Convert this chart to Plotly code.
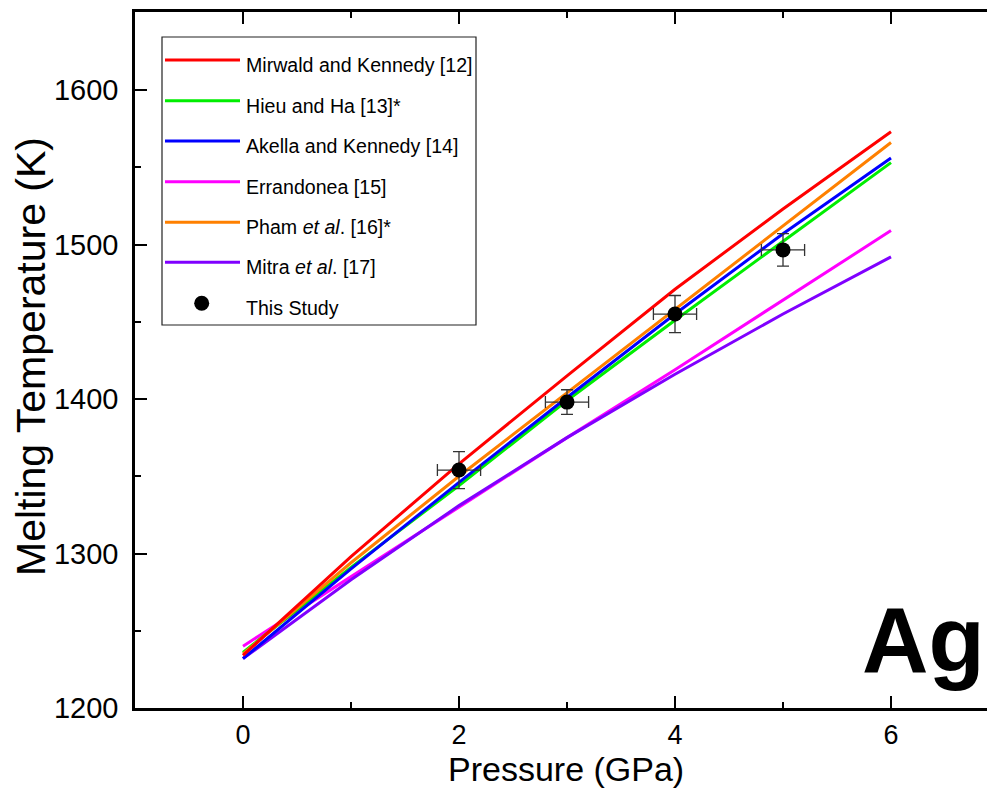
import plotly.graph_objects as go

# ---------------- data ----------------
pressure = [0, 1, 2, 3, 4, 5, 6]
mirwald = [1234, 1298, 1358, 1415, 1471, 1523, 1573]
hieu = [1236, 1291, 1344, 1399, 1451, 1502, 1553]
akella = [1232, 1290, 1346, 1401, 1455, 1507, 1556]
errandonea = [1240, 1285, 1330, 1375, 1419, 1464, 1509]
pham = [1235, 1294, 1350, 1404, 1458, 1512, 1566]
mitra = [1232, 1283, 1331, 1375, 1416, 1455, 1492]

study_p = [2, 3, 4, 5]
study_t = [1354, 1398, 1455, 1496.5]
study_p_err = [0.2, 0.2, 0.2, 0.2]
study_t_err = [12, 8, 12, 10.5]

series_names = ["Mirwald and Kennedy [12]", "Hieu and Ha [13]*", "Akella and Kennedy [14]",
                "Errandonea [15]", "Pham <i>et al</i>. [16]*", "Mitra <i>et al</i>. [17]"]
series_values = [mirwald, hieu, akella, errandonea, pham, mitra]
series_colors = ["#FF0000", "#00EE00", "#0000FF", "#FF00FF", "#FF8000", "#8000FF"]
draw_order = [3, 5, 1, 2, 4, 0]

# ---------------- layout helpers ----------------
W, H = 987, 789
L, R, T, B = 135, 987, 12, 708
FONT = "Arial, Liberation Sans, sans-serif"


def px(x):
    return (x - L) / (R - L)


def py(y):
    return (B - y) / (B - T)


fig = go.Figure()

for i in draw_order:
    fig.add_trace(go.Scatter(x=pressure, y=series_values[i], mode="lines",
                             line=dict(color=series_colors[i], width=3),
                             name=series_names[i], showlegend=False))

fig.add_trace(go.Scatter(
    x=study_p, y=study_t, mode="markers", name="This Study", showlegend=False,
    marker=dict(color="black", size=15),
    error_x=dict(type="data", array=study_p_err, color="#333333", thickness=1.3, width=6),
    error_y=dict(type="data", array=study_t_err, color="#333333", thickness=1.3, width=6),
))

shapes = []
annotations = []

# legend box
shapes.append(dict(type="rect", xref="paper", yref="paper",
                   x0=px(162), x1=px(476), y0=py(325), y1=py(37),
                   line=dict(color="#222222", width=1.2), fillcolor="rgba(0,0,0,0)"))
legend_rows = [60, 100.7, 141, 181.7, 222.3, 262.3]
for k, yrow in enumerate(legend_rows):
    shapes.append(dict(type="line", xref="paper", yref="paper",
                       x0=px(165), x1=px(240), y0=py(yrow), y1=py(yrow),
                       line=dict(color=series_colors[k], width=3)))
    annotations.append(dict(xref="paper", yref="paper", x=px(244), y=py(yrow + 5),
                            text=series_names[k], showarrow=False, xanchor="left",
                            yanchor="middle", font=dict(family=FONT, size=19.6, color="black")))
# dot entry
ydot = 303.3
shapes.append(dict(type="circle", xref="paper", yref="paper",
                   x0=px(201.7 - 7.5), x1=px(201.7 + 7.5), y0=py(ydot + 7.5), y1=py(ydot - 7.5),
                   fillcolor="black", line=dict(color="black", width=0)))
annotations.append(dict(xref="paper", yref="paper", x=px(244), y=py(ydot + 5),
                        text="This Study", showarrow=False, xanchor="left", yanchor="middle",
                        font=dict(family=FONT, size=19.6, color="black")))

# Ag label
annotations.append(dict(xref="paper", yref="paper", x=px(860), y=py(640), text="<b>Ag</b>",
                        showarrow=False, xanchor="left", yanchor="middle",
                        font=dict(family=FONT, size=92, color="black")))

# axis titles
annotations.append(dict(xref="paper", yref="paper", x=px(566), y=py(769), text="Pressure (GPa)",
                        showarrow=False, xanchor="center", yanchor="middle",
                        font=dict(family=FONT, size=34, color="black")))
annotations.append(dict(xref="paper", yref="paper", x=px(31), y=py(357),
                        text="Melting Temperature (K)", textangle=-90,
                        showarrow=False, xanchor="center", yanchor="middle",
                        font=dict(family=FONT, size=41, color="black")))

axis_common = dict(showgrid=False, zeroline=False, linecolor="black", linewidth=2.5,
                   ticks="inside", tickcolor="black", tickwidth=2, ticklen=12)

fig.update_layout(
    width=W, height=H, autosize=False,
    margin=dict(l=L, r=W - R, t=T, b=H - B),
    paper_bgcolor="white", plot_bgcolor="white",
    shapes=shapes, annotations=annotations,
    showlegend=False,
    xaxis=dict(range=[-1, -1 + (R - L) / 108.0], tickmode="array", tickvals=[0, 2, 4, 6],
               showline=True, mirror="ticks", ticklabelstandoff=1,
               tickfont=dict(family=FONT, size=27, color="black"),
               minor=dict(ticks="inside", ticklen=6, tickwidth=2, tickcolor="black",
                          tickvals=[-1, 1, 3, 5]),
               **axis_common),
    yaxis=dict(range=[1200, 1200 + (B - T) / 1.545], tickmode="array",
               tickvals=[1200, 1300, 1400, 1500, 1600],
               showline=True, mirror=False, ticklabelstandoff=8,
               tickfont=dict(family=FONT, size=29, color="black"),
               minor=dict(ticks="inside", ticklen=6, tickwidth=2, tickcolor="black",
                          tickvals=[1250, 1350, 1450, 1550]),
               **axis_common),
    yaxis2=dict(range=[1200, 1200 + (B - T) / 1.545], overlaying="y", side="right",
                showline=False, showgrid=False, zeroline=False, showticklabels=False,
                ticks="inside", ticklen=5, tickwidth=2, tickcolor="black",
                tickmode="array", tickvals=[1200, 1300, 1400, 1500, 1600]),
)

fig.write_html("out.html")
